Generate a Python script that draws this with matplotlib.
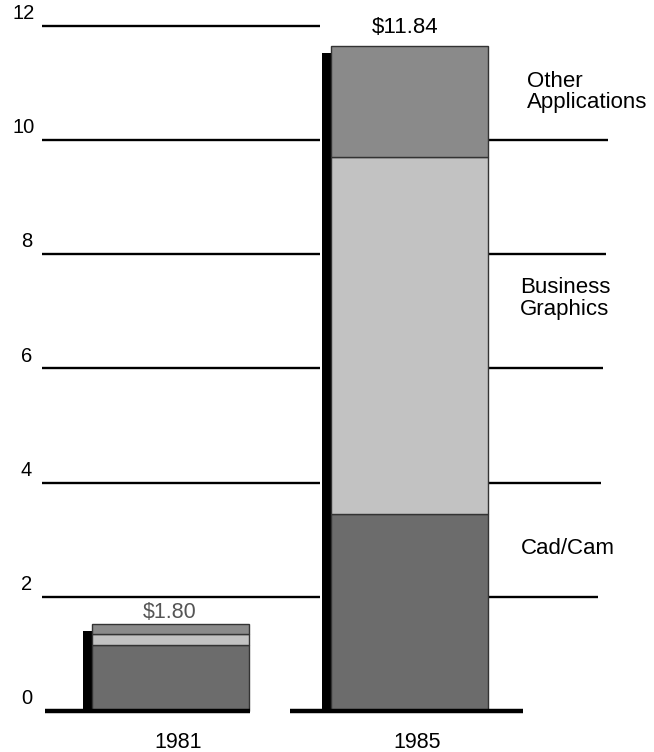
import numpy as np
import matplotlib.pyplot as plt

# values (billions $)
years = ['1981', '1985']
cad_cam = [1.16, 3.45]
business_graphics = [0.19, 6.25]
other_apps = [0.17, 1.95]
total_labels = ['$1.80', '$11.84']
y_ticks = [0, 2, 4, 6, 8, 10, 12]
segment_names = ['Cad/Cam', 'Business\nGraphics', 'Other\nApplications']

colors = ['#6c6c6c', '#c2c2c2', '#8a8a8a']

# pixel-like layout: y value v sits at pixel 711 - 57.1*v
px = 57.1
fig = plt.figure(figsize=(6.54, 7.52), dpi=100)
ax = fig.add_axes([0, 0, 1, 1])
ax.set_xlim(0, 654)
ax.set_ylim((711 - 752) / px, 711 / px)
ax.axis('off')

centers = [170, 409]
width = 157
font = 'Liberation Sans'

# grid lines, broken by the bars
for t in y_ticks[1:]:
    ax.hlines(t, 42, 320, color='black', lw=1.7, zorder=1)
    if t < 12:
        ax.hlines(t, 488, 608 - (10 - t) * 1.2, color='black', lw=1.7, zorder=1)
for t in y_ticks:
    ax.text(35 if t >= 10 else 32, t + 0.12, str(t), ha='right',
            va='baseline', fontsize=14.5, family=font)

# baseline pieces
ax.hlines(0, 45, 250, color='black', lw=3.2, zorder=5)
ax.hlines(0, 290, 523, color='black', lw=3.2, zorder=5)

cad = np.array(cad_cam)
bus = np.array(business_graphics)
oth = np.array(other_apps)
totals = cad + bus + oth

for i, c in enumerate(centers):
    # black shadow on the left side
    ax.bar(c - width / 2 - 4, totals[i] - 0.12, width=9, bottom=0,
           color='black', zorder=3)
    ax.bar(c, cad[i], width=width, bottom=0, color=colors[0],
           edgecolor='#333333', lw=1, zorder=4)
    ax.bar(c, bus[i], width=width, bottom=cad[i], color=colors[1],
           edgecolor='#333333', lw=1, zorder=4)
    ax.bar(c, oth[i], width=width, bottom=cad[i] + bus[i], color=colors[2],
           edgecolor='#333333', lw=1, zorder=4)
    ax.text(c + 8, -0.65, years[i], ha='center', va='baseline', fontsize=15.5,
            family=font)

ax.text(centers[0], totals[0] + 0.11, total_labels[0], ha='center',
        va='baseline', fontsize=15.5, family=font, color='#555555')
ax.text(centers[1] - 4, 11.87, total_labels[1], ha='center', va='baseline',
        fontsize=16, family=font)

# segment labels to the right of the 1985 bar
seg_y = [2.85, 7.23, 10.84]
seg_x = [521, 520, 527]
for name, xx, yy in zip(segment_names, seg_x, seg_y):
    ax.text(xx, yy, name, ha='left', va='center', fontsize=16,
            family=font, linespacing=1.05)

fig.savefig('out.png', dpi=100)
